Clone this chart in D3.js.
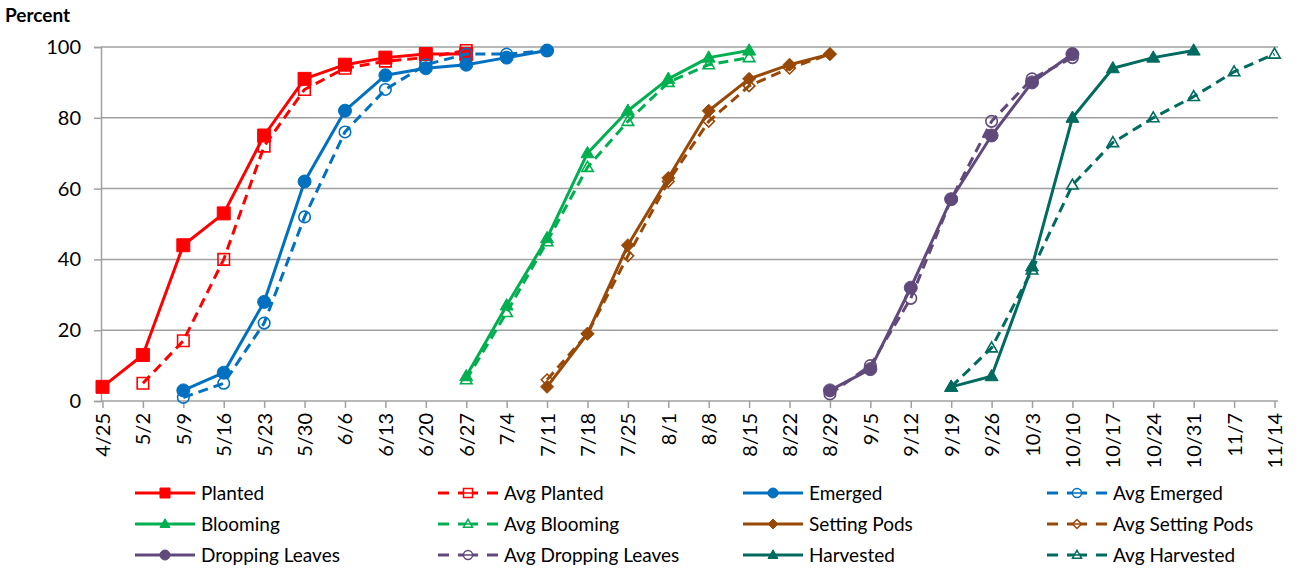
<!DOCTYPE html>
<html>
<head>
<meta charset="utf-8">
<script src="https://cdn.jsdelivr.net/npm/d3@7"></script>
<style>
  html, body { margin: 0; padding: 0; background: #fff; }
  svg { display: block; font-family: Lato, "Liberation Sans", sans-serif; }
</style>
</head>
<body>
<svg id="chart" width="1299" height="569"></svg>
<script>
// ---------- data ----------
const categories = ["4/25","5/2","5/9","5/16","5/23","5/30","6/6","6/13","6/20","6/27","7/4","7/11","7/18","7/25","8/1","8/8","8/15","8/22","8/29","9/5","9/12","9/19","9/26","10/3","10/10","10/17","10/24","10/31","11/7","11/14"];
const yTicks = [0, 20, 40, 60, 80, 100];

const planted          = [4, 13, 44, 53, 75, 91, 95, 97, 98, 98];          // from 4/25
const avgPlanted       = [5, 17, 40, 72, 88, 94, 96, 97, 99];              // from 5/2
const emerged          = [3, 8, 28, 62, 82, 92, 94, 95, 97, 99];           // from 5/9
const avgEmerged       = [1, 5, 22, 52, 76, 88, 95, 98, 98, 99];           // from 5/9
const blooming         = [7, 27, 46, 70, 82, 91, 97, 99];                  // from 6/27
const avgBlooming      = [6, 25, 45, 66, 79, 90, 95, 97];                  // from 6/27
const settingPods      = [4, 19, 44, 63, 82, 91, 95, 98];                  // from 7/11
const avgSettingPods   = [6, 19, 41, 62, 79, 89, 94, 98];                  // from 7/11
const droppingLeaves   = [3, 9, 32, 57, 75, 90, 98];                       // from 8/29
const avgDroppingLeaves= [2, 10, 29, 57, 79, 91, 97];                      // from 8/29
const harvested        = [4, 7, 38, 80, 94, 97, 99];                       // from 9/19
const avgHarvested     = [4, 15, 37, 61, 73, 80, 86, 93, 98];              // from 9/19

const seriesNames = ["Planted","Avg Planted","Emerged","Avg Emerged","Blooming","Avg Blooming","Setting Pods","Avg Setting Pods","Dropping Leaves","Avg Dropping Leaves","Harvested","Avg Harvested"];
const seriesValues = [planted, avgPlanted, emerged, avgEmerged, blooming, avgBlooming, settingPods, avgSettingPods, droppingLeaves, avgDroppingLeaves, harvested, avgHarvested];
const seriesStart = ["4/25","5/2","5/9","5/9","6/27","6/27","7/11","7/11","8/29","8/29","9/19","9/19"];

// ---------- style ----------
const colors  = ["#FF0000","#FF0000","#0070C0","#0070C0","#00B050","#00B050","#984807","#984807","#604A7B","#604A7B","#006B5E","#006B5E"];
const markers = ["square","square","circle","circle","triangle","triangle","diamond","diamond","circle","circle","triangle","triangle"];

const svg = d3.select("#chart");
const plotLeft = 101, plotRight = 1278, plotTop = 47, plotBottom = 401;

const x = d3.scalePoint().domain(categories).range([102.5, 1274.5]);
const y = d3.scaleLinear().domain([0, 100]).range([plotBottom, plotTop]);

const gridColor = "#A0A0A0";

// gridlines
svg.append("g").selectAll("line").data(yTicks.filter(d => d > 0)).join("line")
  .attr("x1", plotLeft).attr("x2", plotRight)
  .attr("y1", d => y(d)).attr("y2", d => y(d))
  .attr("stroke", gridColor).attr("stroke-width", 1.5);

// y axis
const yAxis = svg.append("g").attr("transform", `translate(${plotLeft},0)`)
  .call(d3.axisLeft(y).tickValues(yTicks).tickSize(7).tickPadding(13));
yAxis.select(".domain").attr("stroke", gridColor).attr("stroke-width", 1.5);
yAxis.selectAll(".tick line").attr("stroke", gridColor).attr("stroke-width", 1.5);
yAxis.selectAll(".tick text").attr("font-size", 20).attr("fill", "#000")
  .attr("font-family", "Lato, sans-serif");

// x axis
const xAxis = svg.append("g").attr("transform", `translate(0,${plotBottom})`)
  .call(d3.axisBottom(x).tickSize(7).tickSizeOuter(0));
xAxis.select(".domain").attr("d", `M${plotLeft},0H${plotRight}`).attr("stroke", gridColor).attr("stroke-width", 1.5);
xAxis.selectAll(".tick line").attr("stroke", gridColor).attr("stroke-width", 1.5);
xAxis.selectAll(".tick text")
  .attr("font-size", 20).attr("fill", "#000").attr("font-family", "Lato, sans-serif")
  .attr("transform", "rotate(-90)")
  .attr("text-anchor", "end")
  .attr("x", -12).attr("y", 0).attr("dy", "0.35em");

// y title
svg.append("text").attr("x", 5).attr("y", 22).attr("font-size", 19).attr("font-weight", "bold")
  .attr("font-family", "Lato, sans-serif").text("Percent");

// marker path generator
function markerPath(type, s) {
  if (type === "square") return d3.symbol(d3.symbolSquare, s * s)();
  if (type === "circle") return d3.symbol(d3.symbolCircle, Math.PI * (s / 2) * (s / 2))();
  if (type === "triangle") {
    const h = s * 0.87;
    return `M0,${-h * 0.6}L${s / 2},${h * 0.4}L${-s / 2},${h * 0.4}Z`;
  }
  if (type === "diamond") {
    const r = s / 2;
    return `M0,${-r}L${r},0L0,${r}L${-r},0Z`;
  }
}

const line = d3.line().x(d => x(d.c)).y(d => y(d.v));

seriesNames.forEach((name, i) => {
  const startIdx = categories.indexOf(seriesStart[i]);
  const pts = seriesValues[i].map((v, k) => ({ c: categories[startIdx + k], v }));
  const dashed = name.startsWith("Avg");
  const g = svg.append("g");
  g.append("path").datum(pts).attr("d", line)
    .attr("fill", "none").attr("stroke", colors[i]).attr("stroke-width", 3)
    .attr("stroke-linejoin", "round")
    .attr("stroke-dasharray", dashed ? "10,6" : null);
  const ms = dashed ? 11.5 : (markers[i] === "diamond" ? 13 : 13);
  g.selectAll("path.m").data(pts).join("path").attr("class", "m")
    .attr("transform", d => `translate(${x(d.c)},${y(d.v)})`)
    .attr("d", markerPath(markers[i], ms))
    .attr("fill", dashed ? "none" : colors[i])
    .attr("stroke", colors[i]).attr("stroke-width", dashed ? 1.6 : 1);
});

// legend
const colX = [135, 438, 743, 1047];
const rowY = [493, 524, 555];
seriesNames.forEach((name, i) => {
  const cx = colX[i % 4], cy = rowY[Math.floor(i / 4)];
  const dashed = name.startsWith("Avg");
  const g = svg.append("g").attr("transform", `translate(${cx},${cy})`);
  if (dashed) {
    [[0, 11], [20, 40], [49, 60]].forEach(([a, b]) =>
      g.append("line").attr("x1", a).attr("x2", b).attr("y1", 0).attr("y2", 0)
        .attr("stroke", colors[i]).attr("stroke-width", 3));
  } else {
    g.append("line").attr("x1", 0).attr("x2", 60).attr("y1", 0).attr("y2", 0)
      .attr("stroke", colors[i]).attr("stroke-width", 3);
  }
  g.append("path").attr("transform", "translate(30,0)")
    .attr("d", markerPath(markers[i], dashed ? 9 : 10))
    .attr("fill", dashed ? "#fff" : colors[i]).attr("stroke", colors[i]).attr("stroke-width", dashed ? 1.5 : 1);
  if (dashed) {
    g.append("line").attr("x1", 25.5).attr("x2", 34.5).attr("y1", 0).attr("y2", 0)
      .attr("stroke", colors[i]).attr("stroke-width", 1.5);
  }
  g.append("text").attr("x", 66).attr("y", 0).attr("dy", "0.35em")
    .attr("font-size", 19).attr("font-family", "Lato, sans-serif").attr("fill", "#000")
    .text(name);
});
</script>
</body>
</html>
